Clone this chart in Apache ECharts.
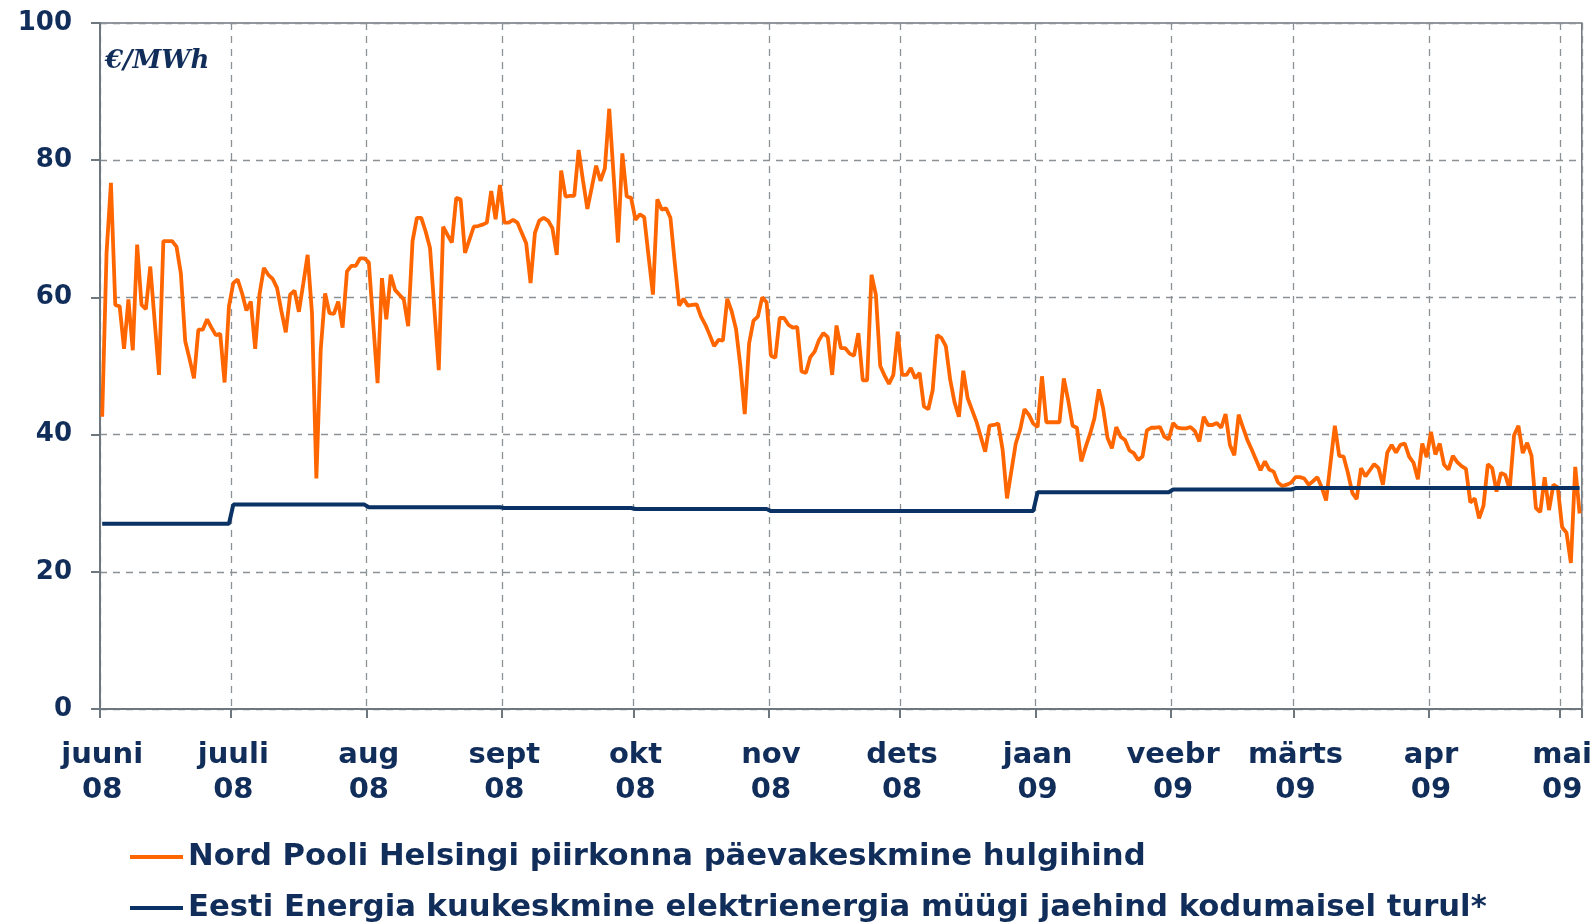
<!DOCTYPE html>
<html>
<head>
<meta charset="utf-8">
<script src="https://cdn.jsdelivr.net/npm/echarts@6/dist/echarts.min.js"></script>
<style>
html,body{margin:0;padding:0;background:#fff;}
#chart{width:1595px;height:924px;}
</style>
</head>
<body>
<div id="chart"></div>
<script>
// Month metadata (axis categories are built from these)
const monthKeys   = ['2008-06','2008-07','2008-08','2008-09','2008-10','2008-11','2008-12','2009-01','2009-02','2009-03','2009-04','2009-05'];
const monthDays   = [30,31,31,30,31,30,31,31,28,31,30,5];
const monthLabels = {'01':'jaan','02':'veebr','03':'märts','04':'apr','05':'mai','06':'juuni','07':'juuli','08':'aug','09':'sept','10':'okt','11':'nov','12':'dets'};

// Nord Pool Helsinki daily average price, €/MWh
const jun08 = [42.6,66.5,76.7,58.9,58.7,52.5,59.7,52.3,67.7,58.9,58.3,64.5,56.6,48.7,68.2,68.2,68.2,67.4,63.5,53.6,51.0,48.2,55.3,55.3,56.8,55.6,54.5,54.7,47.6,58.7];
const jul08 = [62.1,62.6,60.6,58.1,59.4,52.5,60.5,64.3,63.3,62.7,61.4,58.0,54.9,60.4,61.0,57.9,62.0,66.2,57.7,33.6,52.4,60.6,57.7,57.6,59.4,55.6,63.8,64.6,64.6,65.7,65.7];
const aug08 = [65.1,56.3,47.5,62.8,56.8,63.3,61.1,60.4,59.7,55.8,68.2,71.6,71.6,69.6,67.2,58.3,49.4,70.3,69.1,68.0,74.5,74.3,66.5,68.4,70.3,70.4,70.6,70.9,75.5,71.4,76.4];
const sep08 = [70.9,70.9,71.3,70.9,69.4,67.9,62.1,69.4,71.2,71.6,71.2,70.1,66.2,78.5,74.7,74.8,74.8,81.5,77.0,72.9,76.0,79.2,77.0,78.8,87.5,77.8,68.0,81.0,74.7,74.5];
const oct08 = [71.3,72.1,71.7,66.0,60.4,74.3,72.8,73.0,71.6,65.0,58.8,59.8,58.8,58.9,59.0,57.2,56.0,54.5,52.9,53.8,53.7,59.8,58.0,55.4,50.0,43.0,53.3,56.6,57.2,60.0,59.3];
const nov08 = [51.5,51.2,57.0,57.0,56.0,55.6,55.7,49.2,49.0,51.3,52.1,53.8,54.8,54.2,48.7,55.9,52.6,52.6,51.8,51.5,54.8,47.9,47.9,63.3,60.4,50.0,48.6,47.4,48.7,55.0];
const dec08 = [48.7,48.7,49.7,48.2,49.0,44.1,43.7,46.5,54.5,54.1,52.9,48.0,44.7,42.6,49.3,45.3,43.6,41.9,39.7,37.5,41.3,41.4,41.6,37.8,30.7,34.7,38.7,40.7,43.7,42.9,41.6];
const jan09 = [41.1,48.5,41.8,41.8,41.8,41.8,48.2,45.0,41.3,41.0,36.1,38.2,40.1,42.4,46.6,43.8,39.5,38.0,41.1,39.7,39.2,37.7,37.3,36.3,36.8,40.6,41.0,41.0,41.1,39.7,39.3];
const feb09 = [41.7,41.0,40.9,40.9,41.1,40.5,39.0,42.6,41.4,41.4,41.7,41.0,43.0,38.5,37.0,42.9,41.0,39.2,37.8,36.3,34.8,36.1,34.9,34.6,33.0,32.5,32.7,33.0];
const mar09 = [33.8,33.8,33.6,32.7,33.2,33.8,32.3,30.4,35.8,41.3,36.9,36.8,34.4,31.5,30.6,35.1,33.9,34.8,35.7,35.1,32.7,37.4,38.5,37.4,38.5,38.7,36.8,35.9,33.5,38.7,36.7];
const apr09 = [40.4,37.1,38.7,35.6,34.9,36.9,36.0,35.4,35.0,30.1,30.7,27.8,29.6,35.7,35.1,31.7,34.4,34.1,32.0,39.9,41.3,37.3,38.8,36.9,29.3,28.7,33.8,29.0,32.7,32.3];
const may09 = [26.5,25.7,21.3,35.3,28.5];

// Eesti Energia monthly average retail price, €/MWh (one value per month)
const eestiMonthly = [27.0,29.8,29.4,29.3,29.15,28.85,28.85,31.6,32.0,32.2,32.2,32.2];

// Y-axis ticks
const yMin = 0, yMax = 100, yStep = 20;

const seriesNames = ['Nord Pooli Helsingi piirkonna päevakeskmine hulgihind', 'Eesti Energia kuukeskmine elektrienergia müügi jaehind kodumaisel turul*'];

// Build categories (daily dates)
const categories = [];
monthKeys.forEach((k, mi) => {
  for (let d = 1; d <= monthDays[mi]; d++) categories.push(k + '-' + (d < 10 ? '0' + d : '' + d));
});
const nordPool = [].concat(jun08, jul08, aug08, sep08, oct08, nov08, dec08, jan09, feb09, mar09, apr09, may09);
const eesti = [];
monthKeys.forEach((k, mi) => { for (let d = 0; d < monthDays[mi]; d++) eesti.push(eestiMonthly[mi]); });

const navyText = '#112D5A';
const axisGray = '#6E767E';
const orange = '#FF6600';
const navyLine = '#0A3264';
const isMonthStart = (i, v) => v.slice(8) === '01';

const legendBase = {
  orient: 'vertical', left: 130, padding: 0, icon: 'rect', itemWidth: 53, itemHeight: 4,
  textStyle: {fontFamily: 'DejaVu Sans', fontWeight: 'bold', fontSize: 30.7, color: navyText, lineHeight: 34}
};

const chart = echarts.init(document.getElementById('chart'));
chart.setOption({
  animation: false,
  backgroundColor: '#ffffff',
  title: {
    text: '€/MWh', left: 100, top: 43,
    textStyle: {fontFamily: 'DejaVu Serif', fontStyle: 'italic', fontWeight: 'bold', fontSize: 26, color: navyText}
  },
  grid: {left: 100, right: 13, top: 23, bottom: 215, show: true, borderColor: axisGray, borderWidth: 1.5, containLabel: false},
  legend: [
    Object.assign({}, legendBase, {top: 840, data: [seriesNames[0]]}),
    Object.assign({}, legendBase, {top: 891, data: [seriesNames[1]]})
  ],
  xAxis: {
    type: 'category', data: categories, boundaryGap: true,
    axisLine: {lineStyle: {color: axisGray, width: 2}},
    axisTick: {show: true, interval: isMonthStart, length: 9, lineStyle: {color: axisGray, width: 2}},
    axisLabel: {
      interval: isMonthStart, margin: 29, fontFamily: 'DejaVu Sans', fontWeight: 'bold', fontSize: 29,
      color: navyText, lineHeight: 35,
      formatter: v => monthLabels[v.slice(5, 7)] + '\n' + v.slice(2, 4)
    },
    splitLine: {show: true, interval: isMonthStart, lineStyle: {color: '#8C9196', width: 1.3, type: [7, 6]}}
  },
  yAxis: {
    type: 'value', min: yMin, max: yMax, interval: yStep,
    axisLine: {show: true, lineStyle: {color: axisGray, width: 2}},
    axisTick: {show: true, length: 9, lineStyle: {color: axisGray, width: 2}},
    axisLabel: {margin: 28, fontFamily: 'DejaVu Sans', fontWeight: 'bold', fontSize: 26, color: navyText},
    splitLine: {show: true, lineStyle: {color: '#8C9196', width: 1.3, type: [7, 6]}}
  },
  series: [
    {
      name: seriesNames[0], type: 'line', data: nordPool,
      symbol: 'none', lineStyle: {color: orange, width: 3.8}, itemStyle: {color: orange}
    },
    {
      name: seriesNames[1], type: 'line', data: eesti,
      symbol: 'none', lineStyle: {color: navyLine, width: 4}, itemStyle: {color: navyLine}
    }
  ]
});
</script>
</body>
</html>
